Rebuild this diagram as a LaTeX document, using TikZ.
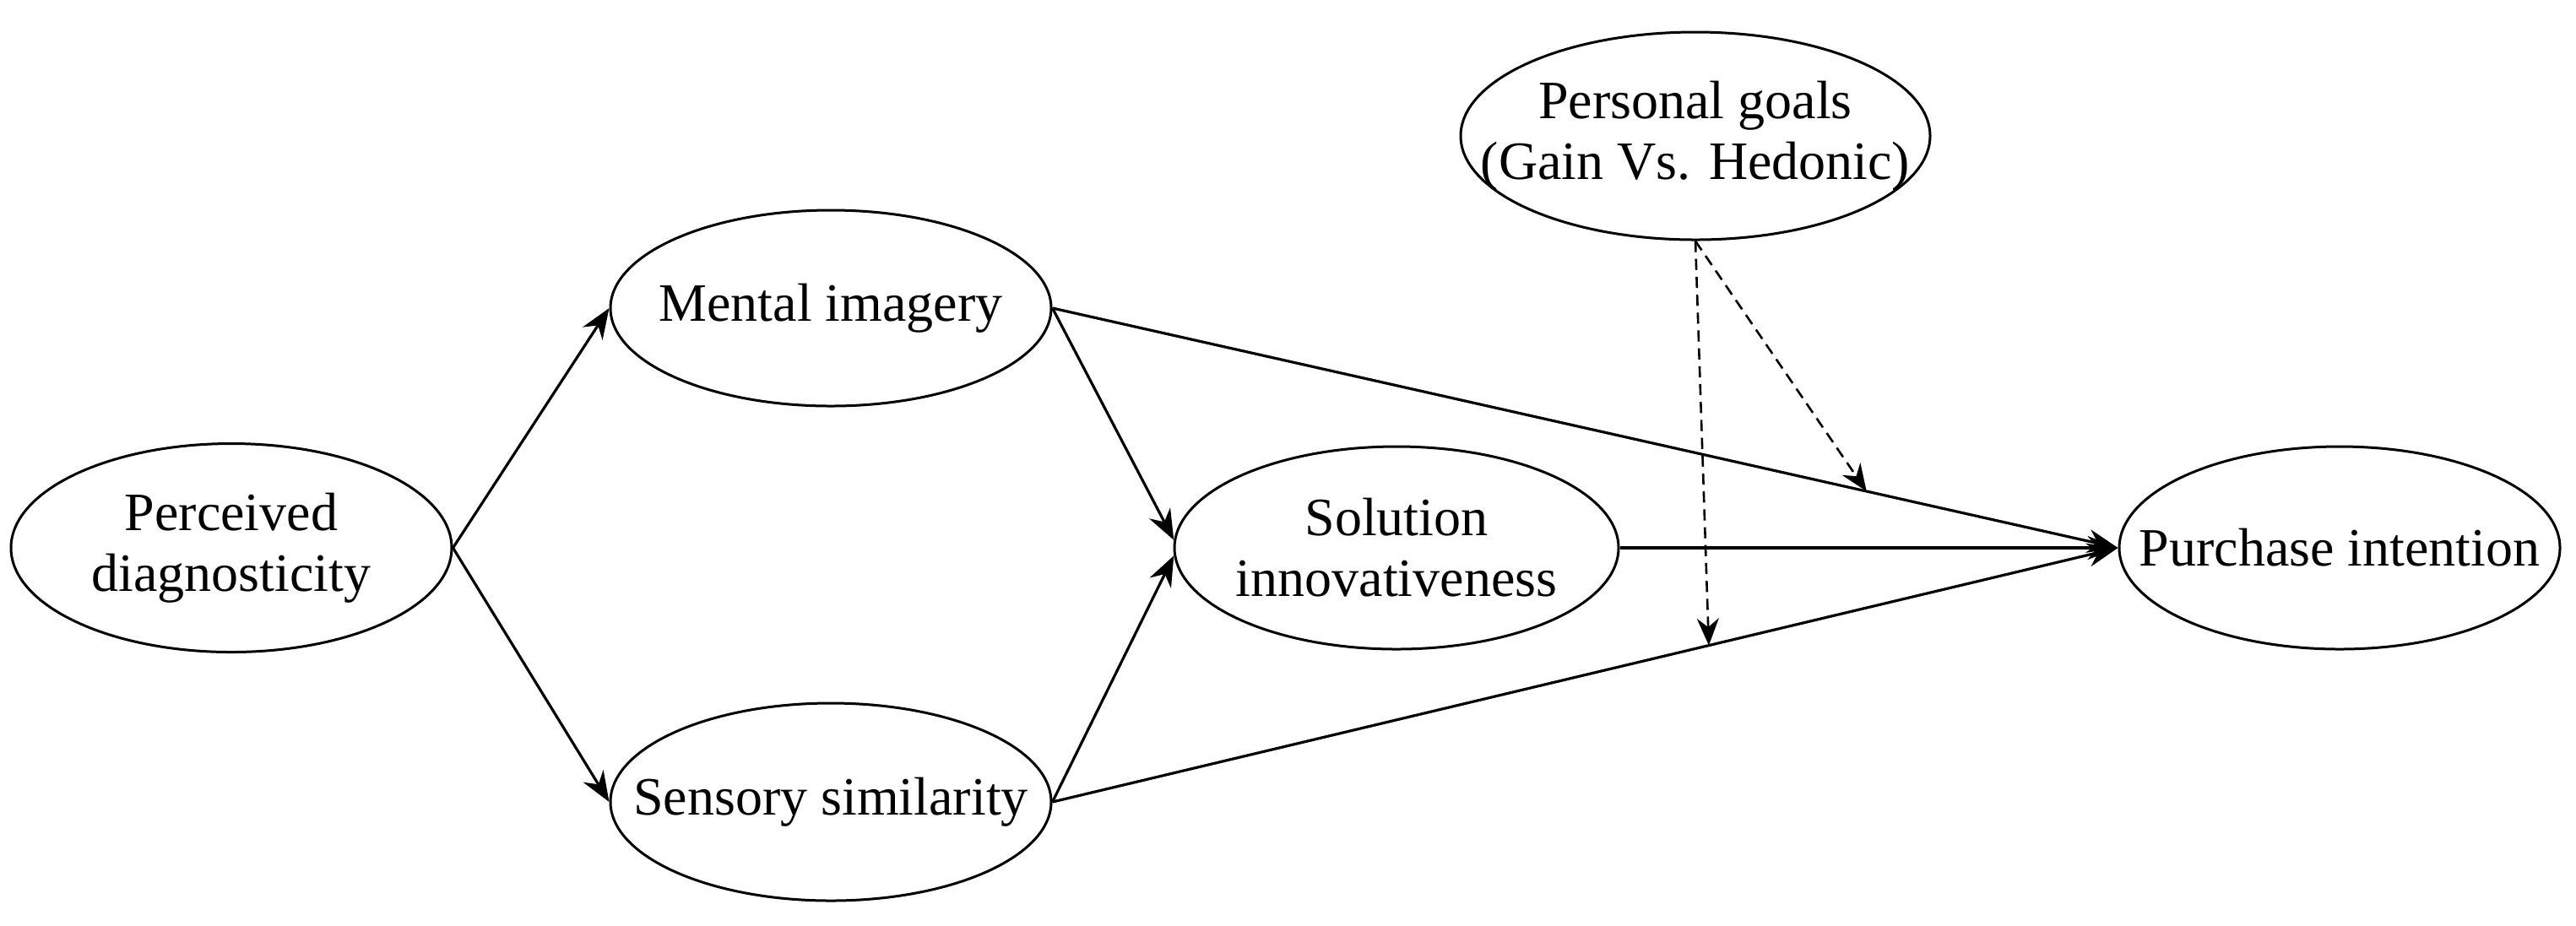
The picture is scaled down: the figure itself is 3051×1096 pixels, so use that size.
\documentclass[tikz,border=0pt]{standalone}
\usepackage{fontspec}
\setmainfont{Liberation Serif}
\usetikzlibrary{arrows.meta,shapes.geometric}
\begin{document}
\begin{tikzpicture}[x=0.25pt,y=-0.25pt,
  latent/.style={draw, ellipse, line width=0.75pt, inner sep=0pt},
  every label/.style={font=\fontsize{16}{18}\selectfont, align=center, inner sep=0pt},
  effect/.style={line width=0.8pt, -{Stealth[length=9pt,width=7pt]}},
  moderation/.style={line width=0.65pt, dash pattern=on 3.3pt off 2pt, -{Stealth[length=8pt,width=6.5pt]}}]
\useasboundingbox (0,0) rectangle (3051,1096);
\node[latent, minimum width=130.5pt, minimum height=61.75pt, label={center:Perceived\\diagnosticity}] (pd) at (274,649) {};
\node[latent, minimum width=130.5pt, minimum height=58pt, label={center:Mental imagery}] (mi) at (984,365) {};
\node[latent, minimum width=130.5pt, minimum height=58.5pt, label={center:Sensory similarity}] (ss) at (984,950) {};
\node[latent, minimum width=131.5pt, minimum height=60pt, label={center:Solution\\innovativeness}] (si) at (1654,649) {};
\node[latent, minimum width=130.5pt, minimum height=60pt, label={center:Purchase intention}] (pi) at (2771,649) {};
\node[latent, minimum width=139pt, minimum height=61.5pt, label={center:Personal goals\\(Gain Vs. Hedonic)}] (pg) at (2008,161) {};
\draw[effect] (pd.east) -- (mi.west);
\draw[effect] (pd.east) -- (ss.west);
\draw[effect] (mi.east) -- (si.178);
\draw[effect] (ss.east) -- (si.182);
\draw[effect] (mi.east) -- (pi.west);
\draw[effect] (ss.east) -- (pi.west);
\draw[effect] (si.east) -- (pi.west);
\path (mi.east) -- (pi.west) coordinate[pos=0.764] (d1);
\path (ss.east) -- (pi.west) coordinate[pos=0.616] (d2);
\draw[moderation] (pg.south) -- (d1);
\draw[moderation] (pg.south) -- (d2);
\end{tikzpicture}
\end{document}
